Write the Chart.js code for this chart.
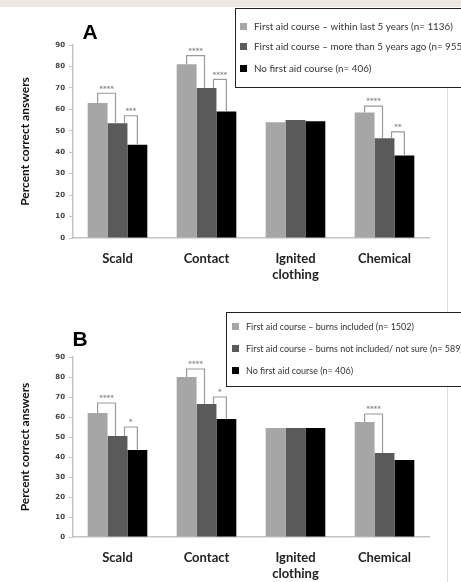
<!DOCTYPE html>
<html lang="en">
<head>
<meta charset="UTF-8" />
<title>Percent correct answers by first aid course</title>
<script src="https://cdn.jsdelivr.net/npm/chart.js"></script>
<style>
  body {
    margin: 0;
    width: 461px;
    height: 582px;
    background: #ffffff;
    position: relative;
    overflow: hidden;
    font-family: Lato, sans-serif;
  }
  /* beige strip on top of the scan */
  .top-band {
    position: absolute; left: 0; top: 0; width: 461px; height: 7px;
    background: #ebe8df;
  }
  /* faint page edge on the right */
  .page-edge {
    position: absolute; left: 447px; top: 80px; width: 1px; height: 502px;
    background: #dddddd;
  }
  .panel { position: absolute; left: 0; width: 461px; }
  #panelA { top: 0; height: 290px; }
  #panelB { top: 290px; height: 292px; }
  canvas { display: block; }
</style>
</head>
<body>
<div class="top-band"></div>
<div class="page-edge"></div>
<div class="panel" id="panelA"><canvas id="chartA"></canvas></div>
<div class="panel" id="panelB"><canvas id="chartB"></canvas></div>

<script>
// categories (x axis)
const categories = ["Scald", "Contact", ["Ignited", "clothing"], "Chemical"];
const yTicks = [0, 10, 20, 30, 40, 50, 60, 70, 80, 90];

// panel A: by time since course
const labelsA = [
  "First aid course \u2013 within last 5 years (n= 1136)",
  "First aid course \u2013 more than 5 years ago (n= 955)",
  "No first aid course (n= 406)"
];
const recentA = [63, 81, 54, 58.5];
const olderA  = [53.5, 70, 55, 46.5];
const noneA   = [43.5, 59, 54.5, 38.5];
// [category, from series, to series, bracket level, stars]
const bracketsA = [
  [0, 0, 1, 67.5, "****"],
  [0, 1, 2, 57, "***"],
  [1, 0, 1, 85, "****"],
  [1, 1, 2, 74, "****"],
  [3, 0, 1, 61.5, "****"],
  [3, 1, 2, 49.5, "**"]
];

// panel B: by burns content
const labelsB = [
  "First aid course \u2013 burns included (n= 1502)",
  "First aid course \u2013 burns not included/ not sure (n= 589)",
  "No first aid course (n= 406)"
];
const burnsB   = [62, 80, 54.5, 57.5];
const noBurnsB = [50.5, 66.5, 54.5, 42];
const noneB    = [43.5, 59, 54.5, 38.5];
const bracketsB = [
  [0, 0, 1, 67, "****"],
  [0, 1, 2, 55, "*"],
  [1, 0, 1, 84, "****"],
  [1, 1, 2, 70, "*"],
  [3, 0, 1, 61.5, "****"]
];

const colors = ["#a6a6a6", "#5a5a5a", "#000000"];

// significance brackets drawn over the bars
const bracketPlugin = {
  id: "brackets",
  afterDatasetsDraw(chart, args, opts) {
    const ctx = chart.ctx;
    const y = chart.scales.y;
    ctx.save();
    ctx.strokeStyle = "#9a9a9a";
    ctx.lineWidth = 1.2;
    ctx.fillStyle = "#8a8a8a";
    ctx.font = "bold 7px 'DejaVu Sans'";
    ctx.textAlign = "center";
    ctx.textBaseline = "bottom";
    opts.list.forEach(([cat, from, to, level, stars]) => {
      const b1 = chart.getDatasetMeta(from).data[cat];
      const b2 = chart.getDatasetMeta(to).data[cat];
      const x1 = b1.x + (from > 0 ? 7 : 0);
      const x2 = b2.x - (to === 1 ? 2 : 0);
      const yl = y.getPixelForValue(level);
      ctx.beginPath();
      ctx.moveTo(x1, b1.y);
      ctx.lineTo(x1, yl);
      ctx.lineTo(x2, yl);
      ctx.lineTo(x2, b2.y);
      ctx.stroke();
      ctx.fillText(stars, (x1 + x2) / 2, yl - 1);
    });
    ctx.restore();
  }
};

// boxed legend and panel letter
const boxPlugin = {
  id: "boxLegend",
  afterDraw(chart, args, opts) {
    const ctx = chart.ctx;
    ctx.save();
    ctx.fillStyle = "#000";
    ctx.font = "bold 21px 'Liberation Sans'";
    ctx.textAlign = "center";
    ctx.textBaseline = "middle";
    ctx.fillText(opts.letter, opts.letterX, opts.letterY);

    ctx.fillStyle = "#ffffff";
    ctx.fillRect(opts.x, opts.y, 300, opts.h);
    ctx.strokeStyle = "#222";
    ctx.lineWidth = 1;
    ctx.strokeRect(opts.x + 0.5, opts.y + 0.5, 300, opts.h);

    // pick a size so the first entry spans the same width as the scan
    ctx.font = "10px Lato";
    const w10 = ctx.measureText(chart.data.datasets[0].label).width;
    const size = 10 * opts.fitWidth / w10;
    ctx.font = size.toFixed(2) + "px Lato";
    ctx.textAlign = "left";
    chart.data.datasets.forEach((ds, i) => {
      const cy = opts.y + opts.rows[i];
      ctx.fillStyle = ds.backgroundColor;
      ctx.fillRect(opts.x + opts.sw, cy - 4, 7, 7);
      ctx.fillStyle = "#333";
      ctx.fillText(ds.label, opts.x + opts.tx, cy);
    });
    ctx.restore();
  }
};

function makeChart(id, height, top, axisH, labels, series, brackets, box) {
  const canvas = document.getElementById(id);
  canvas.width = 461;
  canvas.height = height;
  return new Chart(canvas.getContext("2d"), {
    type: "bar",
    data: {
      labels: categories,
      datasets: series.map((d, i) => ({
        label: labels[i],
        data: d,
        backgroundColor: colors[i],
        borderWidth: 0,
        barPercentage: 1.0,
        categoryPercentage: 0.67
      }))
    },
    options: {
      responsive: false,
      animation: false,
      layout: { padding: { left: 0, right: 32, top: top, bottom: 0 } },
      scales: {
        x: {
          grid: { display: false },
          border: { display: true, color: "#c4c4c4", width: 1.5 },
          ticks: {
            color: "#222",
            font: { family: "Lato", weight: "bold", size: 13 },
            padding: 5,
            maxRotation: 0
          },
          afterFit(scale) { scale.height = axisH; }
        },
        y: {
          min: 0,
          max: 90,
          afterBuildTicks(scale) { scale.ticks = yTicks.map(v => ({ value: v })); },
          grid: { drawOnChartArea: false, drawTicks: true, tickLength: 4, color: "#c4c4c4" },
          border: { display: true, color: "#c4c4c4", width: 1.5 },
          ticks: {
            color: "#444",
            font: { family: "DejaVu Sans", weight: "bold", size: 7 },
            padding: 4
          },
          title: {
            display: true,
            text: "Percent correct answers",
            color: "#111",
            font: { family: "Lato", weight: "bold", size: 12 },
            padding: { top: 18, bottom: 0 }
          },
          afterFit(scale) { scale.width = 73; }
        }
      },
      plugins: {
        legend: { display: false },
        tooltip: { enabled: false },
        brackets: { list: brackets },
        boxLegend: box
      }
    },
    plugins: [bracketPlugin, boxPlugin]
  });
}

makeChart("chartA", 290, 45, 52, labelsA, [recentA, olderA, noneA], bracketsA,
  { letter: "A", letterX: 90, letterY: 33, x: 235, y: 8, h: 79, rows: [19, 39, 61], sw: 5, tx: 19, fitWidth: 199 });
makeChart("chartB", 292, 67, 45, labelsB, [burnsB, noBurnsB, noneB], bracketsB,
  { letter: "B", letterX: 80, letterY: 50, x: 226, y: 22, h: 74, rows: [15, 37, 59], sw: 6, tx: 20, fitWidth: 168 });
</script>
</body>
</html>
